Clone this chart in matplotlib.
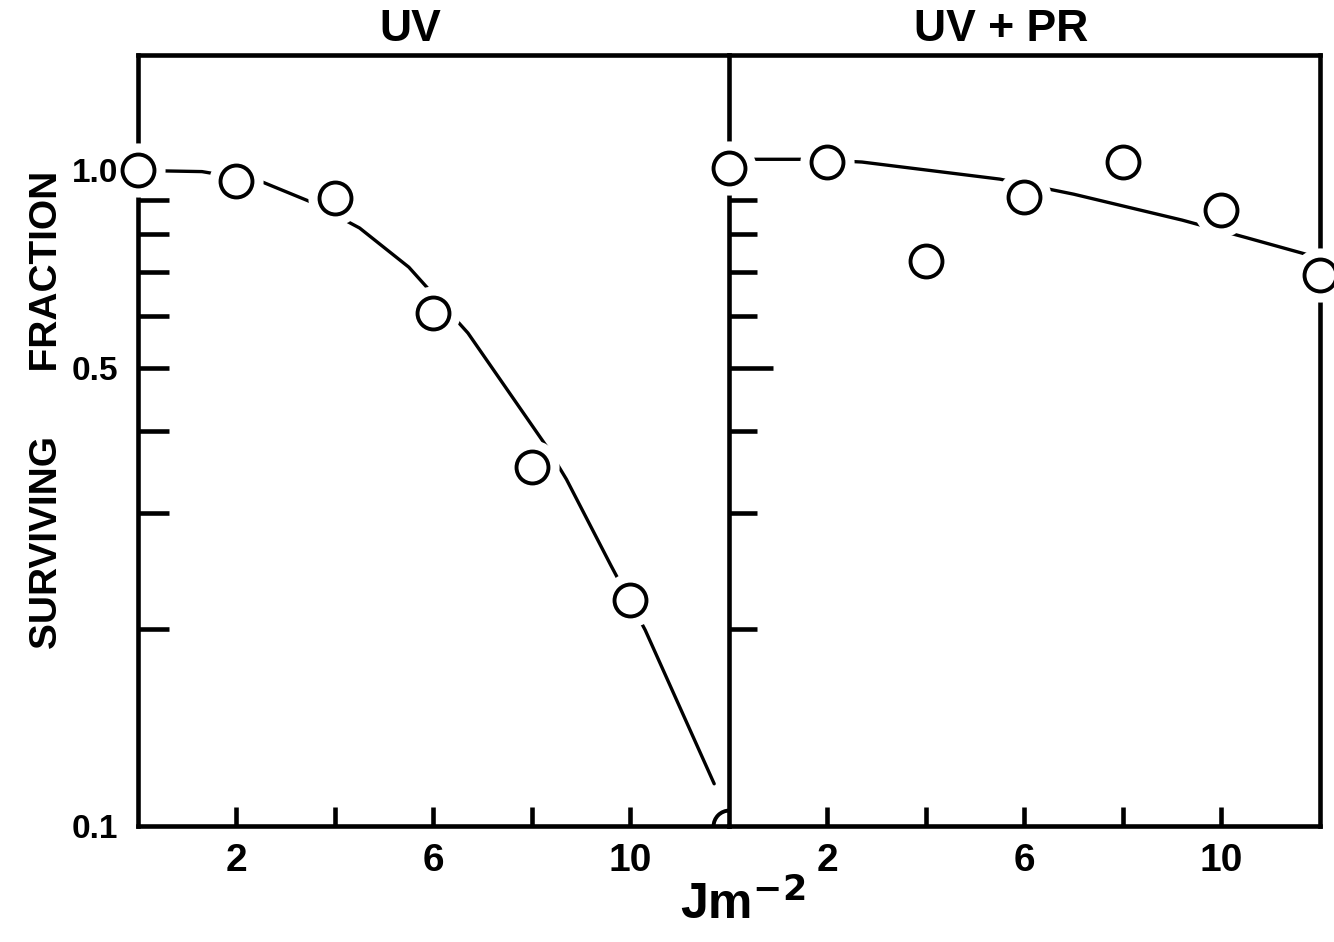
import numpy as np
import matplotlib
matplotlib.use("Agg")
import matplotlib.pyplot as plt
from matplotlib.ticker import FixedLocator, FixedFormatter, NullFormatter

# survival readings (dose in J m^-2)
dose = [0, 2, 4, 6, 8, 10, 12]
uv_frac = [1.0, 0.962, 0.909, 0.607, 0.353, 0.221, 0.1]
uvpr_frac = [1.01, 1.03, 0.727, 0.912, 1.03, 0.871, 0.692]

# hand drawn curves
uv_fit_dose = [0, 1.3, 2.5, 3.5, 4.5, 5.5, 6.7, 8.3, 8.7, 9.6, 10.3, 11.7]
uv_fit_frac = [1.0, 0.996, 0.962, 0.896, 0.817, 0.712, 0.565, 0.379, 0.338, 0.25, 0.199, 0.116]
uvpr_fit_dose = [0, 1.6, 2.7, 5.5, 7.0, 9.2, 10.5, 12.0]
uvpr_fit_frac = [1.04, 1.04, 1.03, 0.97, 0.92, 0.84, 0.79, 0.735]

panel_titles = ["UV", "UV + PR"]
x_ticks = [2, 4, 6, 8, 10]
x_labels = ["2", "", "6", "", "10"]
y_labelled = [0.1, 1.0]
y_ticks = [0.2, 0.3, 0.4, 0.5, 0.6, 0.7, 0.8, 0.9]
y_tick_labels = ["", "", "", "0.5", "", "", "", ""]

YLO, YHI = 0.1, 1.5
LW = 3.3
FONT = "Liberation Sans"

fig = plt.figure(figsize=(13.34, 9.42), dpi=100)
gs = fig.add_gridspec(1, 2, left=0.1034, right=0.9895, top=0.9416, bottom=0.1231, wspace=0)
ax1 = fig.add_subplot(gs[0])
ax2 = fig.add_subplot(gs[1])


def draw_points(ax, xs, ys):
    for x, y in zip(xs, ys):
        inside = y > YLO * 1.001
        if inside:
            # white ring leaves the gap seen around each circle
            ax.plot(x, y, "o", ms=39, mfc="white", mec="none", zorder=4, clip_on=False)
            ax.plot(x, y, "o", ms=23, mfc="white", mec="black", mew=2.8, zorder=5, clip_on=False)
        else:
            ax.plot(x, y, "o", ms=23, mfc="none", mec="black", mew=2.8, zorder=5, clip_on=True)


ax1.plot(uv_fit_dose, uv_fit_frac, color="black", lw=2.4, solid_capstyle="round", zorder=3)
draw_points(ax1, dose, uv_frac)
ax2.plot(uvpr_fit_dose, uvpr_fit_frac, color="black", lw=2.4, solid_capstyle="round", zorder=3, clip_on=False)
draw_points(ax2, dose, uvpr_frac)

for ax, title in zip([ax1, ax2], panel_titles):
    ax.set_yscale("log")
    ax.set_ylim(YLO, YHI)
    ax.set_xlim(0, 12)
    for s in ax.spines.values():
        s.set_linewidth(LW)
    ax.xaxis.set_major_locator(FixedLocator(x_ticks))
    ax.set_xticklabels(x_labels)
    ax.tick_params(axis="x", direction="in", length=14, width=LW, pad=12, labelsize=28)
    ax.text(0.46, 1.006, title, transform=ax.transAxes, ha="center", va="bottom",
            fontsize=32, family=FONT, fontweight="bold")
    for lab in ax.get_xticklabels():
        lab.set_family(FONT)
        lab.set_fontweight("bold")

ax1.spines["right"].set_visible(False)
ax1.yaxis.set_major_locator(FixedLocator(y_labelled))
ax1.yaxis.set_major_formatter(FixedFormatter(["0.1", "1.0"]))
ax1.yaxis.set_minor_locator(FixedLocator(y_ticks))
ax1.yaxis.set_minor_formatter(FixedFormatter(y_tick_labels))
ax1.tick_params(axis="y", which="major", direction="in", length=0, pad=14, labelsize=24)
ax1.tick_params(axis="y", which="minor", direction="in", length=22, width=LW, pad=14, labelsize=24)
ax1.yaxis.set_zorder(4.5)
for lab in ax1.get_yticklabels(which="both"):
    lab.set_family(FONT)
    lab.set_fontweight("bold")

ax2.yaxis.set_major_locator(FixedLocator([0.5]))
ax2.yaxis.set_minor_locator(FixedLocator(y_ticks))
ax2.yaxis.set_major_formatter(NullFormatter())
ax2.yaxis.set_minor_formatter(NullFormatter())
ax2.tick_params(axis="y", which="both", labelleft=False, direction="in", width=LW)
ax2.tick_params(axis="y", which="major", length=32)
ax2.tick_params(axis="y", which="minor", length=20)

fig.text(0.035, 0.565, "SURVIVING      FRACTION", rotation=90, ha="center", va="center",
         fontsize=28, family=FONT, fontweight="bold")
fig.text(0.557, 0.04, r"Jm$^{\mathbf{-2}}$", ha="center", va="center", fontsize=36,
         family=FONT, fontweight="bold")

fig.savefig("out.png", dpi=100)
